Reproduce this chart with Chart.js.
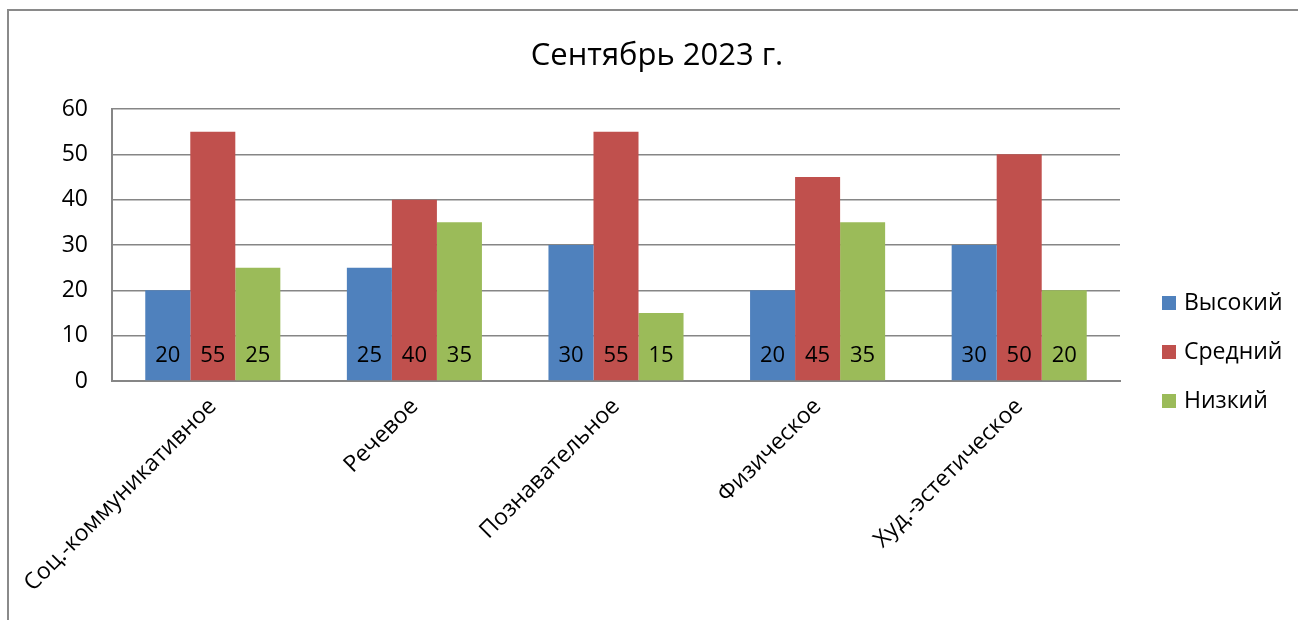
<!DOCTYPE html>
<html>
<head>
<meta charset="utf-8">
<script src="https://cdn.jsdelivr.net/npm/chart.js@4"></script>
<style>
  html, body { margin: 0; padding: 0; background: #fff; }
  #wrap { position: relative; width: 1298px; height: 620px; }
</style>
</head>
<body>
<div id="wrap"><canvas id="chart" width="1298" height="620"></canvas></div>
<script>
const categories = ['Соц.-коммуникативное', 'Речевое', 'Познавательное', 'Физическое', 'Худ.-эстетическое'];
const highVals = [20, 25, 30, 20, 30];
const midVals = [55, 40, 55, 45, 50];
const lowVals = [25, 35, 15, 35, 20];
const seriesNames = ['Высокий', 'Средний', 'Низкий'];
const yTicks = [0, 10, 20, 30, 40, 50, 60];
const chartTitle = 'Сентябрь 2023 г.';

const FONT = '"Open Sans", "DejaVu Sans", sans-serif';
const colors = ['#4F81BD', '#C0504D', '#9BBB59'];

// frame around the whole chart + the title, centred on the full box
const framePlugin = {
  id: 'frame',
  beforeDraw(chart) {
    const ctx = chart.ctx;
    ctx.save();
    ctx.strokeStyle = '#8a8a8a';
    ctx.lineWidth = 2;
    ctx.strokeRect(8, 10, 1310, 700);
    ctx.font = '31px ' + FONT;
    ctx.fillStyle = '#000';
    ctx.textAlign = 'center';
    ctx.textBaseline = 'middle';
    ctx.fillText(chartTitle, 657, 56);
    ctx.restore();
  }
};

// values written inside the bottom of each bar
const barLabels = {
  id: 'barLabels',
  afterDatasetsDraw(chart) {
    const ctx = chart.ctx;
    ctx.save();
    ctx.font = '22px ' + FONT;
    ctx.fillStyle = '#000';
    ctx.textAlign = 'center';
    ctx.textBaseline = 'middle';
    chart.data.datasets.forEach((ds, i) => {
      chart.getDatasetMeta(i).data.forEach((bar, j) => {
        ctx.fillText(String(ds.data[j]), bar.x, bar.base - 25);
      });
    });
    ctx.restore();
  }
};

// legend on the right, square markers
const sideLegend = {
  id: 'sideLegend',
  afterDraw(chart) {
    const ctx = chart.ctx;
    ctx.save();
    ctx.font = '23px ' + FONT;
    ctx.textBaseline = 'middle';
    chart.data.datasets.forEach((ds, i) => {
      const y = 303 + i * 49;
      ctx.fillStyle = ds.backgroundColor;
      ctx.fillRect(1162, y - 7, 14, 14);
      ctx.fillStyle = '#000';
      ctx.fillText(ds.label, 1184, y);
    });
    ctx.restore();
  }
};

new Chart(document.getElementById('chart'), {
  type: 'bar',
  data: {
    labels: categories,
    datasets: [
      { label: seriesNames[0], data: highVals, backgroundColor: colors[0] },
      { label: seriesNames[1], data: midVals, backgroundColor: colors[1] },
      { label: seriesNames[2], data: lowVals, backgroundColor: colors[2] }
    ]
  },
  options: {
    responsive: false,
    animation: false,
    layout: { padding: { left: 8, right: 178, top: 109, bottom: 0 } },
    datasets: { bar: { categoryPercentage: 0.67, barPercentage: 1.0 } },
    plugins: {
      legend: { display: false },
      tooltip: { enabled: false },
      title: { display: false }
    },
    scales: {
      x: {
        grid: { display: false },
        border: { color: '#868686', width: 2 },
        ticks: {
          color: '#000',
          font: { family: FONT, size: 23 },
          minRotation: 45,
          maxRotation: 45,
          padding: 4
        },
        afterFit(s) { s.height = 620 - 381; }
      },
      y: {
        min: 0,
        max: 60,
        afterBuildTicks(s) { s.ticks = yTicks.map(v => ({ value: v })); },
        afterFit(s) { s.width = 112 - 8; },
        grid: { color: '#868686', lineWidth: 1.5, drawTicks: false },
        border: { color: '#868686', width: 2 },
        ticks: {
          color: '#000',
          font: { family: FONT, size: 23 },
          padding: 24
        }
      }
    }
  },
  plugins: [framePlugin, barLabels, sideLegend]
});
</script>
</body>
</html>
